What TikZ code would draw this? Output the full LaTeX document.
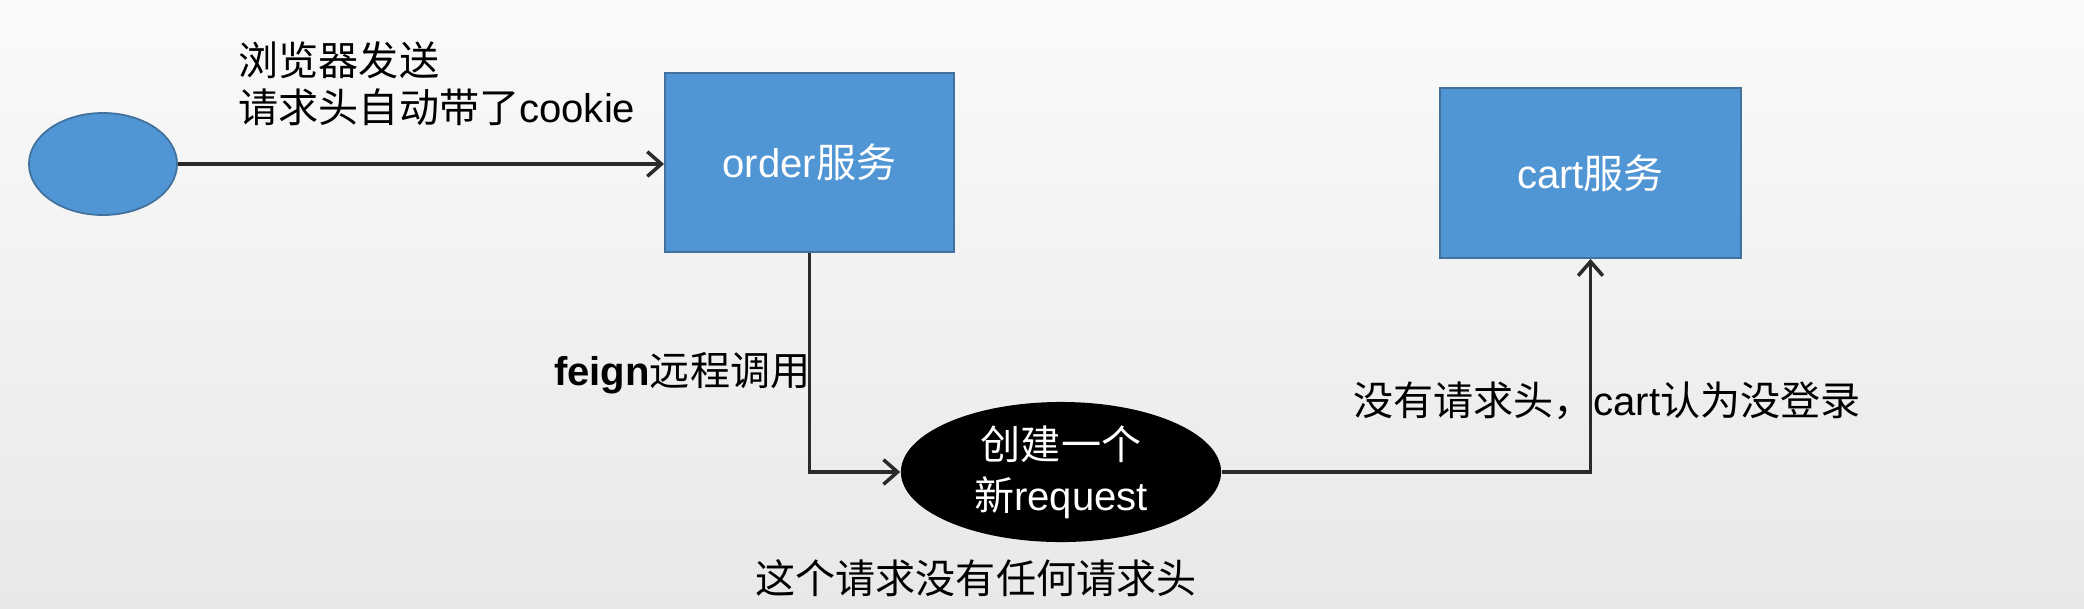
\documentclass[tikz,border=0pt]{standalone}
\usepackage{fontspec}
\setmainfont{Liberation Sans}
\newfontfamily\cjk{Noto Sans CJK SC}
\usetikzlibrary{arrows.meta,shapes.geometric}
\newcommand\zhtxt[1]{{\cjk #1}}
\definecolor{boxblue}{HTML}{5096D4}
\definecolor{boxedge}{HTML}{41719C}
\definecolor{linegray}{HTML}{2A2A2A}
\tikzset{
  txt/.style={font=\fontsize{11.4pt}{13.4pt}\selectfont, inner sep=0pt, text=black},
  svcbox/.style={draw=boxedge, line width=0.5pt, fill=boxblue, text=white, inner sep=0pt,
    font=\fontsize{11.4pt}{13.4pt}\selectfont},
  conn/.style={draw=linegray, line width=1pt, -{Straight Barb[length=4pt,width=7pt,line width=1pt]}},
}
\begin{document}
\begin{tikzpicture}[x=0.01cm,y=-0.01cm]
\shade[top color=white!98!black, bottom color=white!91!black] (0,0) rectangle (2084,608);
\useasboundingbox (0,0) rectangle (2084,608);

\node[ellipse, draw=boxedge, line width=0.5pt, fill=boxblue, minimum width=1.48cm, minimum height=1.02cm, inner sep=0pt] (client) at (103,164) {};
\node[svcbox, minimum width=2.89cm, minimum height=1.79cm] (order) at (809.5,162.5) {order\zhtxt{服务}};
\node[svcbox, minimum width=3.01cm, minimum height=1.70cm] (cart) at (1590.5,173) {cart\zhtxt{服务}};
\node[ellipse, fill=black, text=white, minimum width=3.2cm, minimum height=1.4cm, inner sep=0pt,
  font=\fontsize{11.4pt}{14.5pt}\selectfont, align=center] (req) at (1061,472) {\zhtxt{创建一个}\\\zhtxt{新}request};

\node[txt, align=left, anchor=west] (send) at (238,84) {\zhtxt{浏览器发送}\\\zhtxt{请求头自动带了}cookie};
\node[txt, anchor=east] (feign) at (811,373) {\textbf{feign}\zhtxt{远程调用}};
\node[txt] (nohead) at (976,578) {\zhtxt{这个请求没有任何请求头}};
\node[txt] (cartmsg) at (1607,401) {\zhtxt{没有请求头，}cart\zhtxt{认为没登录}};

\draw[conn] (client.east) -- (client.east -| order.west);
\draw[conn] (order.south) |- (req.west);
\draw[conn] (req.east) -| (cart.south);
\end{tikzpicture}
\end{document}
